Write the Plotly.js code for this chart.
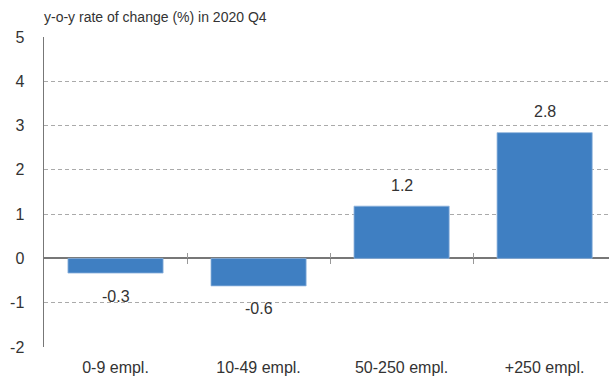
<!DOCTYPE html>
<html>
<head>
<meta charset="utf-8">
<script src="https://cdn.plot.ly/plotly-3.0.1.min.js"></script>
<style>html,body{margin:0;padding:0;background:#fff;}#chart{width:609px;height:378px;}</style>
</head>
<body>
<div id="chart"></div>
<script>
var categories = ["0-9 empl.", "10-49 empl.", "50-250 empl.", "+250 empl."];
var values = [-0.33, -0.62, 1.18, 2.84];
var valueLabels = ["-0.3", "-0.6", "1.2", "2.8"];
var yTicks = [-2, -1, 0, 1, 2, 3, 4, 5];
var yTickText = ["-2", "-1", "0", "1", "2", "3", "4", "5"];
var boundaries = [0.5, 1.5, 2.5];
var titleText = "y-o-y rate of change (%) in 2020 Q4";

var font = "Liberation Sans, Arial, Helvetica, sans-serif";
var xs = categories.map(function (c, i) { return i; });

var traces = [{
  type: "bar",
  x: xs,
  y: values,
  width: 0.665,
  marker: {color: "#3f7fc2", line: {color: "#8db2dc", width: 0.8}},
  hoverinfo: "none"
}];

var annotations = values.map(function (v, i) {
  return {
    x: xs[i], y: v, xref: "x", yref: "y",
    text: valueLabels[i], showarrow: false,
    yanchor: "middle", yshift: v >= 0 ? 21 : -23,
    font: {family: font, size: 16, color: "#333"}
  };
});
annotations.push({
  xref: "paper", yref: "paper", x: 0, y: 1, xanchor: "left", yanchor: "middle",
  yshift: 20, xshift: -2, showarrow: false, text: titleText,
  font: {family: font, size: 14, color: "#333"}
});

var layout = {
  width: 609, height: 378,
  margin: {l: 44, r: 0, t: 37, b: 31},
  paper_bgcolor: "#fff", plot_bgcolor: "#fff",
  showlegend: false,
  font: {family: font, color: "#333"},
  annotations: annotations,
  xaxis: {
    range: [-0.5, 3.45],
    tickmode: "array", tickvals: xs, ticktext: categories,
    showgrid: false, zeroline: false, showline: false, ticks: "",
    ticklabelstandoff: 9,
    tickfont: {family: font, size: 16, color: "#333"},
    fixedrange: true
  },
  xaxis2: {
    overlaying: "x", anchor: "free", position: 2/7, matches: "x",
    tickmode: "array", tickvals: boundaries, ticks: "outside", ticklen: 5,
    tickcolor: "#999", tickwidth: 1, showticklabels: false,
    showgrid: false, zeroline: false, showline: false
  },
  xaxis3: {
    overlaying: "x", anchor: "free", position: 2/7, matches: "x",
    tickmode: "array", tickvals: boundaries, ticks: "inside", ticklen: 5,
    tickcolor: "#999", tickwidth: 1, showticklabels: false,
    showgrid: false, zeroline: false, showline: false
  },
  yaxis: {
    range: [-2, 5],
    tickmode: "array", tickvals: yTicks, ticktext: yTickText,
    showgrid: true, gridcolor: "#aaa", griddash: "4px,3px", gridwidth: 1,
    zeroline: true, zerolinecolor: "#777", zerolinewidth: 2,
    showline: true, linecolor: "#777", linewidth: 1.5,
    ticks: "", ticklabelstandoff: 15,
    tickfont: {family: font, size: 16, color: "#333"},
    fixedrange: true
  }
};

traces.push({type: "scatter", x: [0], y: [0], xaxis: "x2", mode: "markers", marker: {opacity: 0}, hoverinfo: "none"});
traces.push({type: "scatter", x: [0], y: [0], xaxis: "x3", mode: "markers", marker: {opacity: 0}, hoverinfo: "none"});

Plotly.newPlot("chart", traces, layout, {displayModeBar: false, staticPlot: true});
</script>
</body>
</html>
